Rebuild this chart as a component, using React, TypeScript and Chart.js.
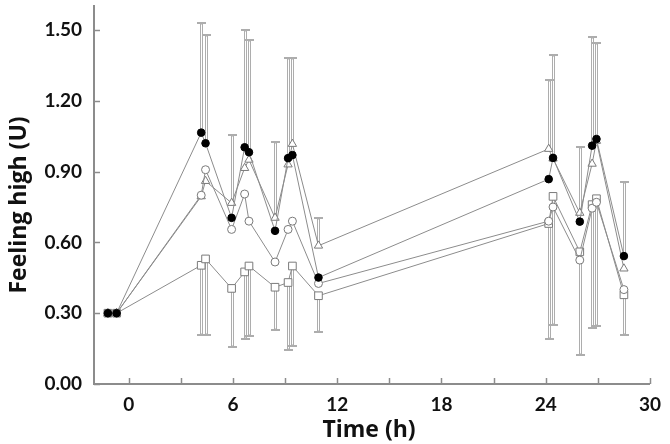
import { useEffect, useRef } from 'react';
import { Chart, registerables } from 'chart.js';

Chart.register(...registerables);

// Time points (h)
const times = [-1.2, -0.7, 4.17, 4.42, 5.92, 6.67, 6.92, 8.42, 9.17, 9.42, 10.92, 24.17, 24.42, 25.96, 26.67, 26.92, 28.5];

// Series values (Feeling high, U)
const filledCircleValues = [0.3, 0.3, 1.065, 1.02, 0.704, 1.003, 0.982, 0.649, 0.957, 0.97, 0.451, 0.868, 0.958, 0.688, 1.01, 1.038, 0.542];
const openCircleValues = [0.3, 0.3, 0.8, 0.908, 0.655, 0.805, 0.69, 0.517, 0.655, 0.69, 0.426, 0.69, 0.75, 0.525, 0.745, 0.77, 0.4];
const openTriangleValues = [0.3, 0.3, 0.795, 0.86, 0.767, 0.915, 0.95, 0.704, 0.93, 1.017, 0.586, 0.996, 0.955, 0.725, 0.933, 1.03, 0.489];
const openSquareValues = [0.3, 0.3, 0.503, 0.53, 0.405, 0.475, 0.5, 0.41, 0.43, 0.5, 0.374, 0.68, 0.795, 0.56, 0.76, 0.785, 0.378];

// Error bar ends (null = no bar)
const filledCircleUpper = [null, null, 1.53, 1.48, null, 1.5, 1.457, null, 1.38, null, null, null, 1.396, null, 1.472, 1.447, 0.854];
const openTriangleUpper = [null, null, null, null, 1.055, null, null, 1.024, null, 1.38, 0.704, 1.2875, null, 1.005, null, null, null];
const openSquareLower = [null, null, 0.207, 0.207, 0.155, 0.19, 0.204, 0.229, 0.146, 0.1625, 0.222, 0.19, 0.25, 0.125, 0.239, 0.246, 0.207];

// Ticks
const yTickValues = [0, 0.3, 0.6, 0.9, 1.2, 1.5];
const xTickValues = [0, 3, 6, 9, 12, 15, 18, 21, 24, 27, 30];
const xLabelValues = [0, 6, 12, 18, 24, 30];

const xTitle = 'Time (h)';
const yTitle = 'Feeling high (U)';

const LINE = '#8c8c8c';
const MARK = '#7a7a7a';

export default function App() {
  const ref = useRef<HTMLCanvasElement>(null);

  useEffect(() => {
    if (!ref.current) return;
    const toPts = (vals: number[]) => times.map((t, i) => ({ x: t, y: vals[i] }));

    const errorBars = {
      id: 'errorBars',
      beforeDatasetsDraw(chart: any) {
        const { ctx } = chart;
        const xs = chart.scales.x;
        const ys = chart.scales.y;
        const specs: [number[], (number | null)[]][] = [
          [filledCircleValues, filledCircleUpper],
          [openTriangleValues, openTriangleUpper],
          [openSquareValues, openSquareLower],
        ];
        ctx.save();
        for (const [vals, ends] of specs) {
          times.forEach((t, i) => {
            const e = ends[i];
            if (e == null) return;
            const px = Math.round(xs.getPixelForValue(t)) + 0.5;
            const p0 = ys.getPixelForValue(vals[i]);
            const p1 = Math.round(ys.getPixelForValue(e));
            const dir = p1 < p0 ? 1 : -1;
            ctx.strokeStyle = '#adadad';
            ctx.lineWidth = 3;
            ctx.beginPath();
            ctx.moveTo(px, p0);
            ctx.lineTo(px, p1);
            ctx.stroke();
            ctx.lineWidth = 2;
            ctx.beginPath();
            ctx.moveTo(px - 4.5, p1);
            ctx.lineTo(px + 4.5, p1);
            ctx.stroke();
            ctx.strokeStyle = '#ffffff';
            ctx.lineWidth = 1;
            ctx.beginPath();
            ctx.moveTo(px, p0);
            ctx.lineTo(px, p1 + dir * 1.5);
            ctx.stroke();
          });
        }
        ctx.restore();
      },
    };

    const decorations = {
      id: 'decorations',
      afterDraw(chart: any) {
        const { ctx, chartArea } = chart;
        const xs = chart.scales.x;
        const ys = chart.scales.y;
        ctx.save();
        ctx.strokeStyle = LINE;
        ctx.lineWidth = 1.5;
        xTickValues.forEach((v) => {
          const px = Math.round(xs.getPixelForValue(v)) + 0.5;
          ctx.beginPath();
          ctx.moveTo(px, chartArea.bottom);
          ctx.lineTo(px, chartArea.bottom - 6);
          ctx.stroke();
        });
        yTickValues.forEach((v) => {
          const py = Math.round(ys.getPixelForValue(v)) + 0.5;
          ctx.beginPath();
          ctx.moveTo(chartArea.left, py);
          ctx.lineTo(chartArea.left + 6, py);
          ctx.stroke();
        });
        ctx.fillStyle = '#111';
        ctx.font = 'bold 23px "Open Sans"';
        ctx.textAlign = 'center';
        ctx.textBaseline = 'middle';
        ctx.fillText(xTitle, 369, 430);
        ctx.translate(19, 205);
        ctx.rotate(-Math.PI / 2);
        ctx.fillText(yTitle, 0, 0);
        ctx.restore();
      },
    };

    const chart = new Chart(ref.current, {
      type: 'line',
      data: {
        datasets: [
          {
            label: 'filled circle',
            data: toPts(filledCircleValues),
            borderColor: LINE,
            borderWidth: 1,
            pointStyle: 'circle',
            pointRadius: 3.8,
            pointBackgroundColor: '#000',
            pointBorderColor: '#000',
            pointBorderWidth: 1,
          },
          {
            label: 'open circle',
            data: toPts(openCircleValues),
            borderColor: LINE,
            borderWidth: 1,
            pointStyle: 'circle',
            pointRadius: 4,
            pointBackgroundColor: '#fff',
            pointBorderColor: MARK,
            pointBorderWidth: 1,
          },
          {
            label: 'open triangle',
            data: toPts(openTriangleValues),
            borderColor: LINE,
            borderWidth: 1,
            pointStyle: 'triangle',
            pointRadius: 4.8,
            pointBackgroundColor: '#fff',
            pointBorderColor: MARK,
            pointBorderWidth: 1,
          },
          {
            label: 'open square',
            data: toPts(openSquareValues),
            borderColor: LINE,
            borderWidth: 1,
            pointStyle: 'rect',
            pointRadius: 5.4,
            pointBackgroundColor: '#fff',
            pointBorderColor: MARK,
            pointBorderWidth: 1,
          },
        ],
      },
      options: {
        animation: false,
        responsive: false,
        events: [],
        layout: { padding: { top: 0, right: 12, bottom: 0, left: 0 } },
        plugins: { legend: { display: false }, tooltip: { enabled: false } },
        elements: { line: { tension: 0 } },
        scales: {
          x: {
            type: 'linear',
            min: -2,
            max: 30,
            grid: { display: false, drawTicks: false },
            border: { display: true, color: LINE, width: 2 },
            afterBuildTicks: (scale: any) => {
              scale.ticks = xTickValues.map((v) => ({ value: v }));
            },
            afterFit: (scale: any) => {
              scale.height = 60;
            },
            ticks: {
              padding: 9,
              color: '#111',
              font: { family: 'Lato', weight: 'bold', size: 19 },
              maxRotation: 0,
              autoSkip: false,
              callback: (v: any) => (xLabelValues.includes(Number(v)) ? String(v) : ''),
            },
          },
          y: {
            type: 'linear',
            min: 0,
            max: 1.6,
            grid: { display: false, drawTicks: false },
            border: { display: true, color: LINE, width: 2 },
            afterBuildTicks: (scale: any) => {
              scale.ticks = yTickValues.map((v) => ({ value: v }));
            },
            afterFit: (scale: any) => {
              scale.width = 94;
              scale.paddingTop = 0;
              scale.paddingBottom = 0;
            },
            ticks: {
              padding: 12,
              color: '#111',
              font: { family: 'Lato', weight: 'bold', size: 19 },
              callback: (v: any) => Number(v).toFixed(2),
            },
          },
        },
      },
      plugins: [errorBars, decorations],
    });
    return () => chart.destroy();
  }, []);

  return (
    <div style={{ position: 'fixed', left: 0, top: 0, width: 670, height: 444, background: '#fff' }}>
      <canvas ref={ref} width={670} height={444} style={{ width: 670, height: 444, display: 'block' }} />
    </div>
  );
}
